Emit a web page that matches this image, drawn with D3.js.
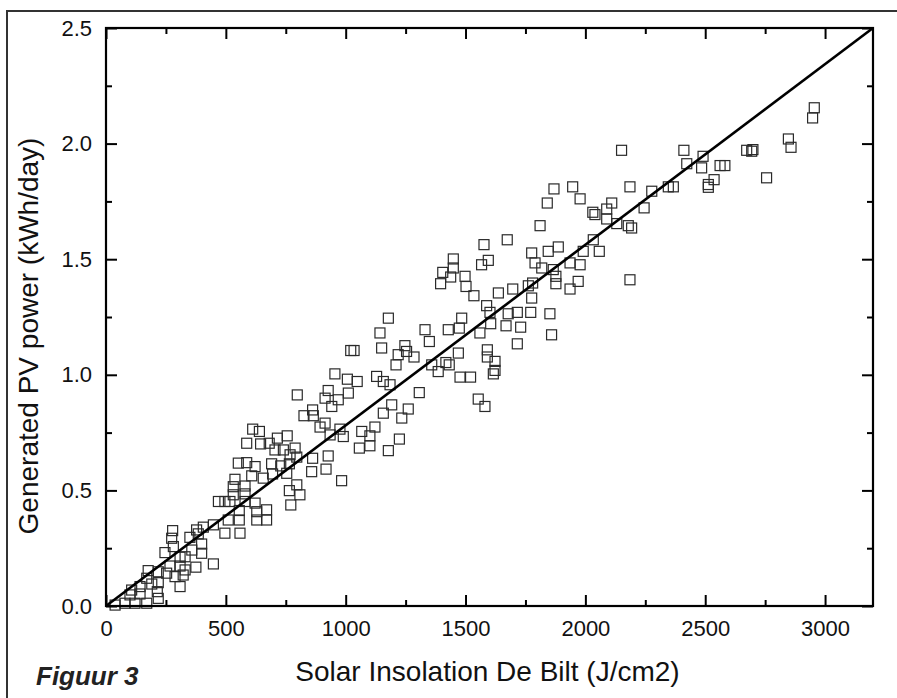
<!DOCTYPE html>
<html>
<head>
<meta charset="utf-8">
<script src="https://cdn.jsdelivr.net/npm/d3@7"></script>
<style>
  html, body { margin: 0; padding: 0; background: #fff; }
  svg { display: block; }
  text { font-family: "Liberation Sans", Arial, sans-serif; }
</style>
</head>
<body>
<svg id="chart" width="897" height="698"></svg>
<script>
// ---- data ----
const insolation = [
  2955,2948,2847,2858,2673,2694,2699,2491,2485,2562,2582,2537,2513,2513,2756,
  2151,2411,2423,1869,1947,1978,1841,2186,2277,2346,2367,2110,2089,2031,2040,2089,2245,2131,2179,2193,1811,2033,1991,2058,1887,1845,1936,1978,1818,1866,1877,1877,1970,1936,2186,1852,
  1577,1674,1776,1790,1449,1405,1449,1438,1498,1396,1502,1535,1567,1595,1637,1697,1762,1780,1776,1588,1602,1678,1716,1772,1605,1669,1730,1859,1716,1560,1484,1474,1428,1331,1349,1178,1143,1150,1247,1254,1219,1285,1210,1470,1591,1591,1623,1623,1616,1418,1432,1386,1359,1477,1521,1157,1185,1307,1553,1581,
  1021,1035,955,1007,1048,1129,1011,927,914,798,969,942,862,826,865,914,893,976,935,990,1067,1122,1101,1057,1101,1178,1224,1157,1192,1234,1261,862,927,858,918,983,612,640,587,645,681,715,756,705,740,789,768,796,552,587,622,691,729,765,608,656,695,754,538,580,531,580,531,765,809,796,622,771,670,
  469,496,517,580,556,629,670,629,556,510,496,559,448,406,385,378,278,274,246,281,350,399,399,358,330,309,267,309,375,448,330,322,253,218,176,170,191,218,214,218,142,100,107,309,288,170,121,79,38,142
];
const power = [
  2.155,2.111,2.02,1.984,1.971,1.967,1.974,1.945,1.895,1.905,1.905,1.844,1.823,1.811,1.852,
  1.971,1.971,1.913,1.804,1.813,1.761,1.743,1.813,1.794,1.813,1.813,1.743,1.717,1.703,1.693,1.674,1.722,1.654,1.645,1.635,1.645,1.584,1.534,1.534,1.553,1.534,1.484,1.476,1.462,1.455,1.426,1.394,1.404,1.371,1.411,1.264,
  1.563,1.584,1.527,1.484,1.501,1.443,1.462,1.423,1.426,1.394,1.382,1.342,1.476,1.495,1.354,1.371,1.385,1.397,1.332,1.299,1.270,1.264,1.270,1.270,1.221,1.212,1.206,1.173,1.134,1.181,1.245,1.202,1.195,1.195,1.144,1.245,1.181,1.116,1.126,1.101,1.087,1.077,1.043,1.094,1.108,1.077,1.058,1.019,1.004,1.053,1.043,1.014,1.043,0.990,0.990,0.971,0.957,0.923,0.895,0.863,
  1.105,1.105,1.004,0.981,0.971,0.993,0.921,0.932,0.899,0.913,0.892,0.863,0.848,0.823,0.823,0.791,0.774,0.765,0.740,0.733,0.755,0.774,0.736,0.683,0.693,0.672,0.722,0.834,0.870,0.813,0.852,0.639,0.649,0.581,0.592,0.542,0.765,0.755,0.704,0.701,0.704,0.726,0.736,0.675,0.675,0.683,0.654,0.644,0.618,0.620,0.603,0.615,0.606,0.615,0.563,0.553,0.571,0.574,0.548,0.519,0.516,0.485,0.481,0.499,0.481,0.524,0.445,0.437,0.416,
  0.452,0.452,0.452,0.452,0.413,0.408,0.372,0.372,0.372,0.372,0.315,0.315,0.351,0.341,0.312,0.329,0.326,0.293,0.231,0.257,0.297,0.268,0.228,0.242,0.213,0.173,0.173,0.211,0.168,0.182,0.156,0.134,0.142,0.148,0.153,0.120,0.095,0.101,0.062,0.033,0.052,0.048,0.069,0.084,0.127,0.012,0.012,0.012,0.004,0.084
];
const fitX = [0, 3200];
const fitY = [0, 2.5];
const xTicks = [0, 500, 1000, 1500, 2000, 2500, 3000];
const xMinorTicks = [250, 750, 1250, 1750, 2250, 2750];
const yTicks = [0, 0.5, 1.0, 1.5, 2.0, 2.5];
const yMinorTicks = [0.25, 0.75, 1.25, 1.75, 2.25];
const xTitle = "Solar Insolation De Bilt (J/cm2)";
const yTitle = "Generated PV power (kWh/day)";
const figLabel = "Figuur 3";

// ---- layout ----
const L = 106, R = 873, T = 28, B = 606;
const svg = d3.select("#chart");
const x = d3.scaleLinear().domain([0, 3200]).range([L, R]);
const y = d3.scaleLinear().domain([0, 2.5]).range([B, T]);

// outer frame (left & top edges visible)
svg.append("line").attr("x1", 7).attr("x2", 7).attr("y1", 10).attr("y2", 698)
  .attr("stroke", "#333").attr("stroke-width", 2);
svg.append("line").attr("x1", 6).attr("x2", 897).attr("y1", 11).attr("y2", 11)
  .attr("stroke", "#333").attr("stroke-width", 2);

// points
const pts = insolation.map((v, i) => [v, power[i]]);
const S = 10;
svg.append("g").selectAll("rect").data(pts).join("rect")
  .attr("x", d => x(d[0]) - S / 2)
  .attr("y", d => y(d[1]) - S / 2)
  .attr("width", S).attr("height", S)
  .attr("fill", "none").attr("stroke", "#2a2a2a").attr("stroke-width", 1.2);

// fit line
svg.append("path")
  .datum(fitX.map((v, i) => [v, fitY[i]]))
  .attr("d", d3.line().x(d => x(d[0])).y(d => y(d[1])))
  .attr("fill", "none").attr("stroke", "#000").attr("stroke-width", 2.6);

function styleAxis(g) {
  g.select(".domain").remove();
  g.selectAll(".tick line").attr("stroke", "#000").attr("stroke-width", 2);
  g.selectAll(".tick text").attr("fill", "#111").style("font-size", "22px")
    .style("font-family", '"Liberation Sans", Arial, sans-serif');
}

// bottom axis
svg.append("g").attr("transform", `translate(0,${B})`)
  .call(d3.axisBottom(x).tickValues(xTicks).tickSizeInner(-11).tickSizeOuter(0).tickPadding(14).tickFormat(d3.format("d")))
  .call(styleAxis);
svg.append("g").attr("transform", `translate(0,${B})`)
  .call(d3.axisBottom(x).tickValues(xMinorTicks).tickSizeInner(-6).tickSizeOuter(0).tickFormat(""))
  .call(styleAxis);
// top axis
svg.append("g").attr("transform", `translate(0,${T})`)
  .call(d3.axisTop(x).tickValues(xTicks).tickSizeInner(-11).tickSizeOuter(0).tickFormat(""))
  .call(styleAxis);
svg.append("g").attr("transform", `translate(0,${T})`)
  .call(d3.axisTop(x).tickValues(xMinorTicks).tickSizeInner(-6).tickSizeOuter(0).tickFormat(""))
  .call(styleAxis);
// left axis
svg.append("g").attr("transform", `translate(${L},0)`)
  .call(d3.axisLeft(y).tickValues(yTicks).tickSizeInner(-11).tickSizeOuter(0).tickPadding(14).tickFormat(d3.format(".1f")))
  .call(styleAxis);
svg.append("g").attr("transform", `translate(${L},0)`)
  .call(d3.axisLeft(y).tickValues(yMinorTicks).tickSizeInner(-6).tickSizeOuter(0).tickFormat(""))
  .call(styleAxis);
// right axis
svg.append("g").attr("transform", `translate(${R},0)`)
  .call(d3.axisRight(y).tickValues(yTicks).tickSizeInner(-11).tickSizeOuter(0).tickFormat(""))
  .call(styleAxis);
svg.append("g").attr("transform", `translate(${R},0)`)
  .call(d3.axisRight(y).tickValues(yMinorTicks).tickSizeInner(-6).tickSizeOuter(0).tickFormat(""))
  .call(styleAxis);

// plot frame
svg.append("rect").attr("x", L).attr("y", T).attr("width", R - L).attr("height", B - T)
  .attr("fill", "none").attr("stroke", "#000").attr("stroke-width", 2.2);

// titles
svg.append("text").attr("x", 487.5).attr("y", 681)
  .attr("text-anchor", "middle").style("font-size", "28px").attr("fill", "#111")
  .text(xTitle);
svg.append("text").attr("transform", `translate(38,336) rotate(-90)`)
  .attr("text-anchor", "middle").style("font-size", "28px").attr("fill", "#111")
  .text(yTitle);
svg.append("text").attr("x", 36).attr("y", 685)
  .style("font-size", "26px").style("font-weight", "bold").style("font-style", "italic")
  .attr("fill", "#222").text(figLabel);
</script>
</body>
</html>
